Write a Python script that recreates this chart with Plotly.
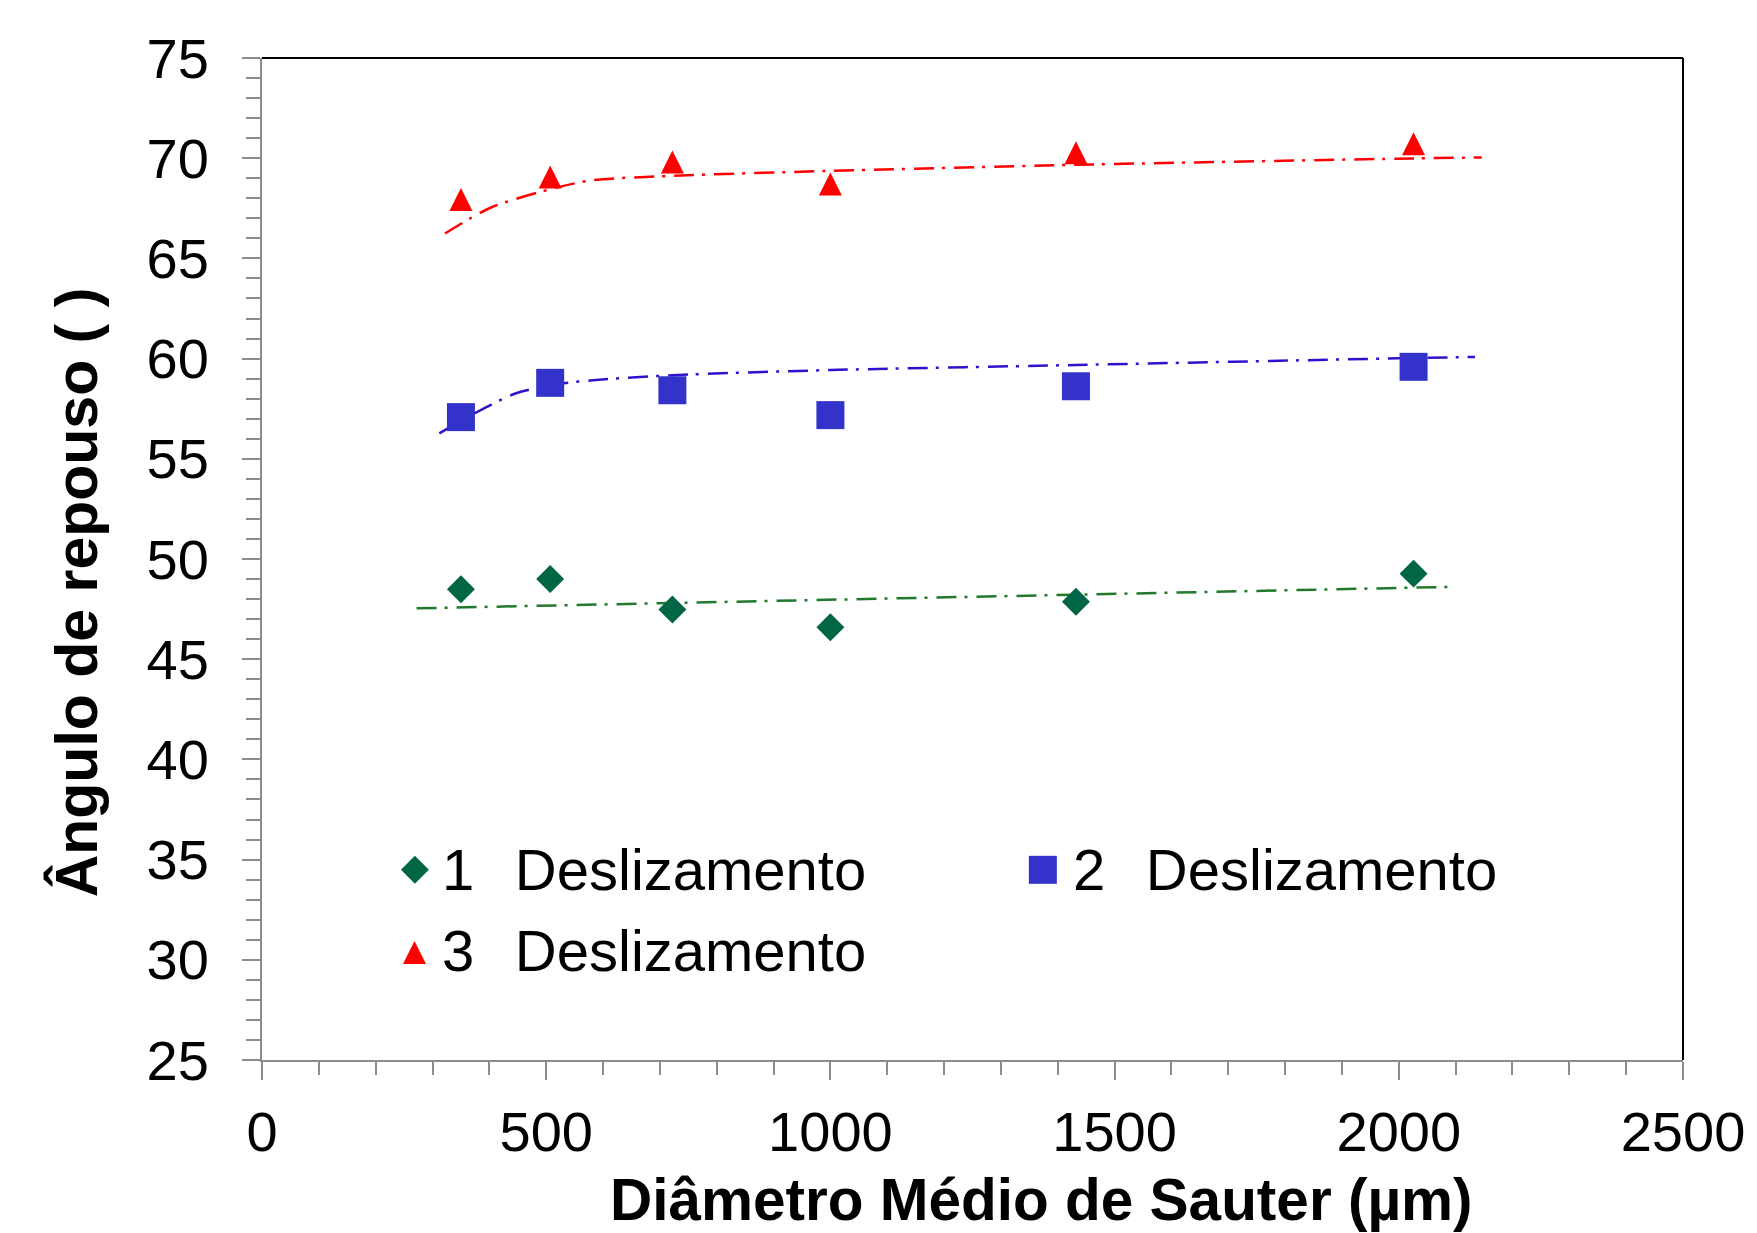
import plotly.graph_objects as go

# Diâmetro médio de Sauter (µm) of each sample
diametro = [350, 507, 722, 1000, 1432, 2026]

# Ângulo de repouso measured in each slide
desliz_1 = [48.49, 49.00, 47.48, 46.59, 47.87, 49.27]
desliz_2 = [57.08, 58.79, 58.42, 57.18, 58.62, 59.59]
desliz_3 = [67.94, 69.06, 69.81, 68.71, 70.27, 70.72]

# Trend curves (x, y) for each slide
trend_1_x = [272, 2094]
trend_1_y = [47.54, 48.61]
trend_2_x = [312, 376, 447, 510, 582, 723, 1001, 1432, 2026, 2134]
trend_2_y = [56.27, 57.30, 58.27, 58.68, 58.92, 59.17, 59.43, 59.68, 60.03, 60.08]
trend_3_x = [322, 403, 519, 582, 723, 1001, 1432, 2026, 2146]
trend_3_y = [66.24, 67.54, 68.54, 68.90, 69.12, 69.37, 69.67, 69.99, 70.04]

legend_labels = ["1\u2002\u2009Deslizamento",
                 "2\u2002\u2009Deslizamento",
                 "3\u2002\u2009Deslizamento"]

FONT = "Liberation Sans, Arial, sans-serif"
AXIS_GREY = "#8c8c8c"
DASH = "20px,8px,3px,9px"

# marker styles per series; the triangle is an isosceles arrow turned
# upright and pushed back by half its size so it sits centred on the point
sym = ["diamond", "square", "arrow-down"]
msize = [21.5, 28, 23]
mangle = [0, 0, 180]
mcolor = ["#006645", "#3333CC", "#FF0000"]
lcolor = ["#217A2B", "#3311CC", "#FF0000"]
stand = [0, 0, 11.5]

fig = go.Figure()

trends = [(trend_1_x, trend_1_y, "linear"),
          (trend_2_x, trend_2_y, "spline"),
          (trend_3_x, trend_3_y, "spline")]
for i, (tx, ty, shp) in enumerate(trends):
    fig.add_trace(go.Scatter(
        x=tx, y=ty, mode="lines", showlegend=False, hoverinfo="skip",
        line=dict(color=lcolor[i], width=2.5, dash=DASH, shape=shp,
                  smoothing=0.8 if shp == "spline" else None),
    ))

for i, ys in enumerate([desliz_1, desliz_2, desliz_3]):
    fig.add_trace(go.Scatter(
        x=diametro, y=ys, mode="markers", name=legend_labels[i], showlegend=False,
        marker=dict(symbol=sym[i], size=msize[i], color=mcolor[i],
                    angle=mangle[i], standoff=stand[i], line=dict(width=0)),
    ))

# legend drawn in a unit-square overlay
leg_x = [0.1076, 0.5495, 0.1073]
leg_y = [0.1899, 0.1898, 0.1073]
for i in range(3):
    fig.add_trace(go.Scatter(
        x=[leg_x[i]], y=[leg_y[i]], xaxis="x2", yaxis="y2", mode="markers",
        showlegend=False, hoverinfo="skip",
        marker=dict(symbol=sym[i], size=msize[i], color=mcolor[i],
                    angle=mangle[i], standoff=stand[i], line=dict(width=0)),
    ))

leg_tx = [0.1255, 0.5694, 0.1255]
leg_ty = [0.1901, 0.1901, 0.1088]
annotations = []
for i in range(3):
    annotations.append(dict(
        x=leg_tx[i], y=leg_ty[i], xref="paper", yref="paper",
        xanchor="left", yanchor="middle", showarrow=False,
        text=legend_labels[i], font=dict(family=FONT, size=58, color="black"),
    ))

annotations.append(dict(
    x=0.5487, y=-0.1395, xref="paper", yref="paper", xanchor="center",
    yanchor="middle", showarrow=False,
    text="<b>Diâmetro Médio de Sauter (µm)</b>",
    font=dict(family=FONT, size=58.5, color="black"),
))
annotations.append(dict(
    x=-0.1305, y=0.4663, xref="paper", yref="paper", xanchor="center",
    yanchor="middle", showarrow=False, textangle=-90,
    text="<b>Ângulo de repouso ( )</b>",
    font=dict(family=FONT, size=59, color="black"),
))

axis_common = dict(
    showgrid=False, zeroline=False, showline=True, linecolor=AXIS_GREY,
    linewidth=2, ticks="outside", tickcolor=AXIS_GREY, tickwidth=2,
    ticklen=18, tickfont=dict(family=FONT, size=56, color="black"),
)

fig.update_layout(
    width=1757, height=1233,
    margin=dict(l=262, r=69, t=58, b=173, pad=0),
    paper_bgcolor="white", plot_bgcolor="white",
    showlegend=False,
    xaxis=dict(range=[0, 2500], tick0=0, dtick=500, ticklabelstandoff=4,
               minor=dict(ticks="outside", dtick=100, ticklen=13,
                          tickcolor=AXIS_GREY, tickwidth=2),
               **axis_common),
    yaxis=dict(range=[25, 75], tick0=25, dtick=5, ticklabelstandoff=22,
               minor=dict(ticks="outside", dtick=1, ticklen=14,
                          tickcolor=AXIS_GREY, tickwidth=2),
               **axis_common),
    xaxis2=dict(range=[0, 1], overlaying="x", visible=False, fixedrange=True),
    yaxis2=dict(range=[0, 1], overlaying="y", visible=False, fixedrange=True),
    annotations=annotations,
    shapes=[
        dict(type="line", xref="paper", yref="paper", x0=0, x1=1, y0=1, y1=1,
             line=dict(color="black", width=2)),
        dict(type="line", xref="paper", yref="paper", x0=1, x1=1, y0=0, y1=1,
             line=dict(color="black", width=2)),
    ],
)

fig.write_html("out.html")
